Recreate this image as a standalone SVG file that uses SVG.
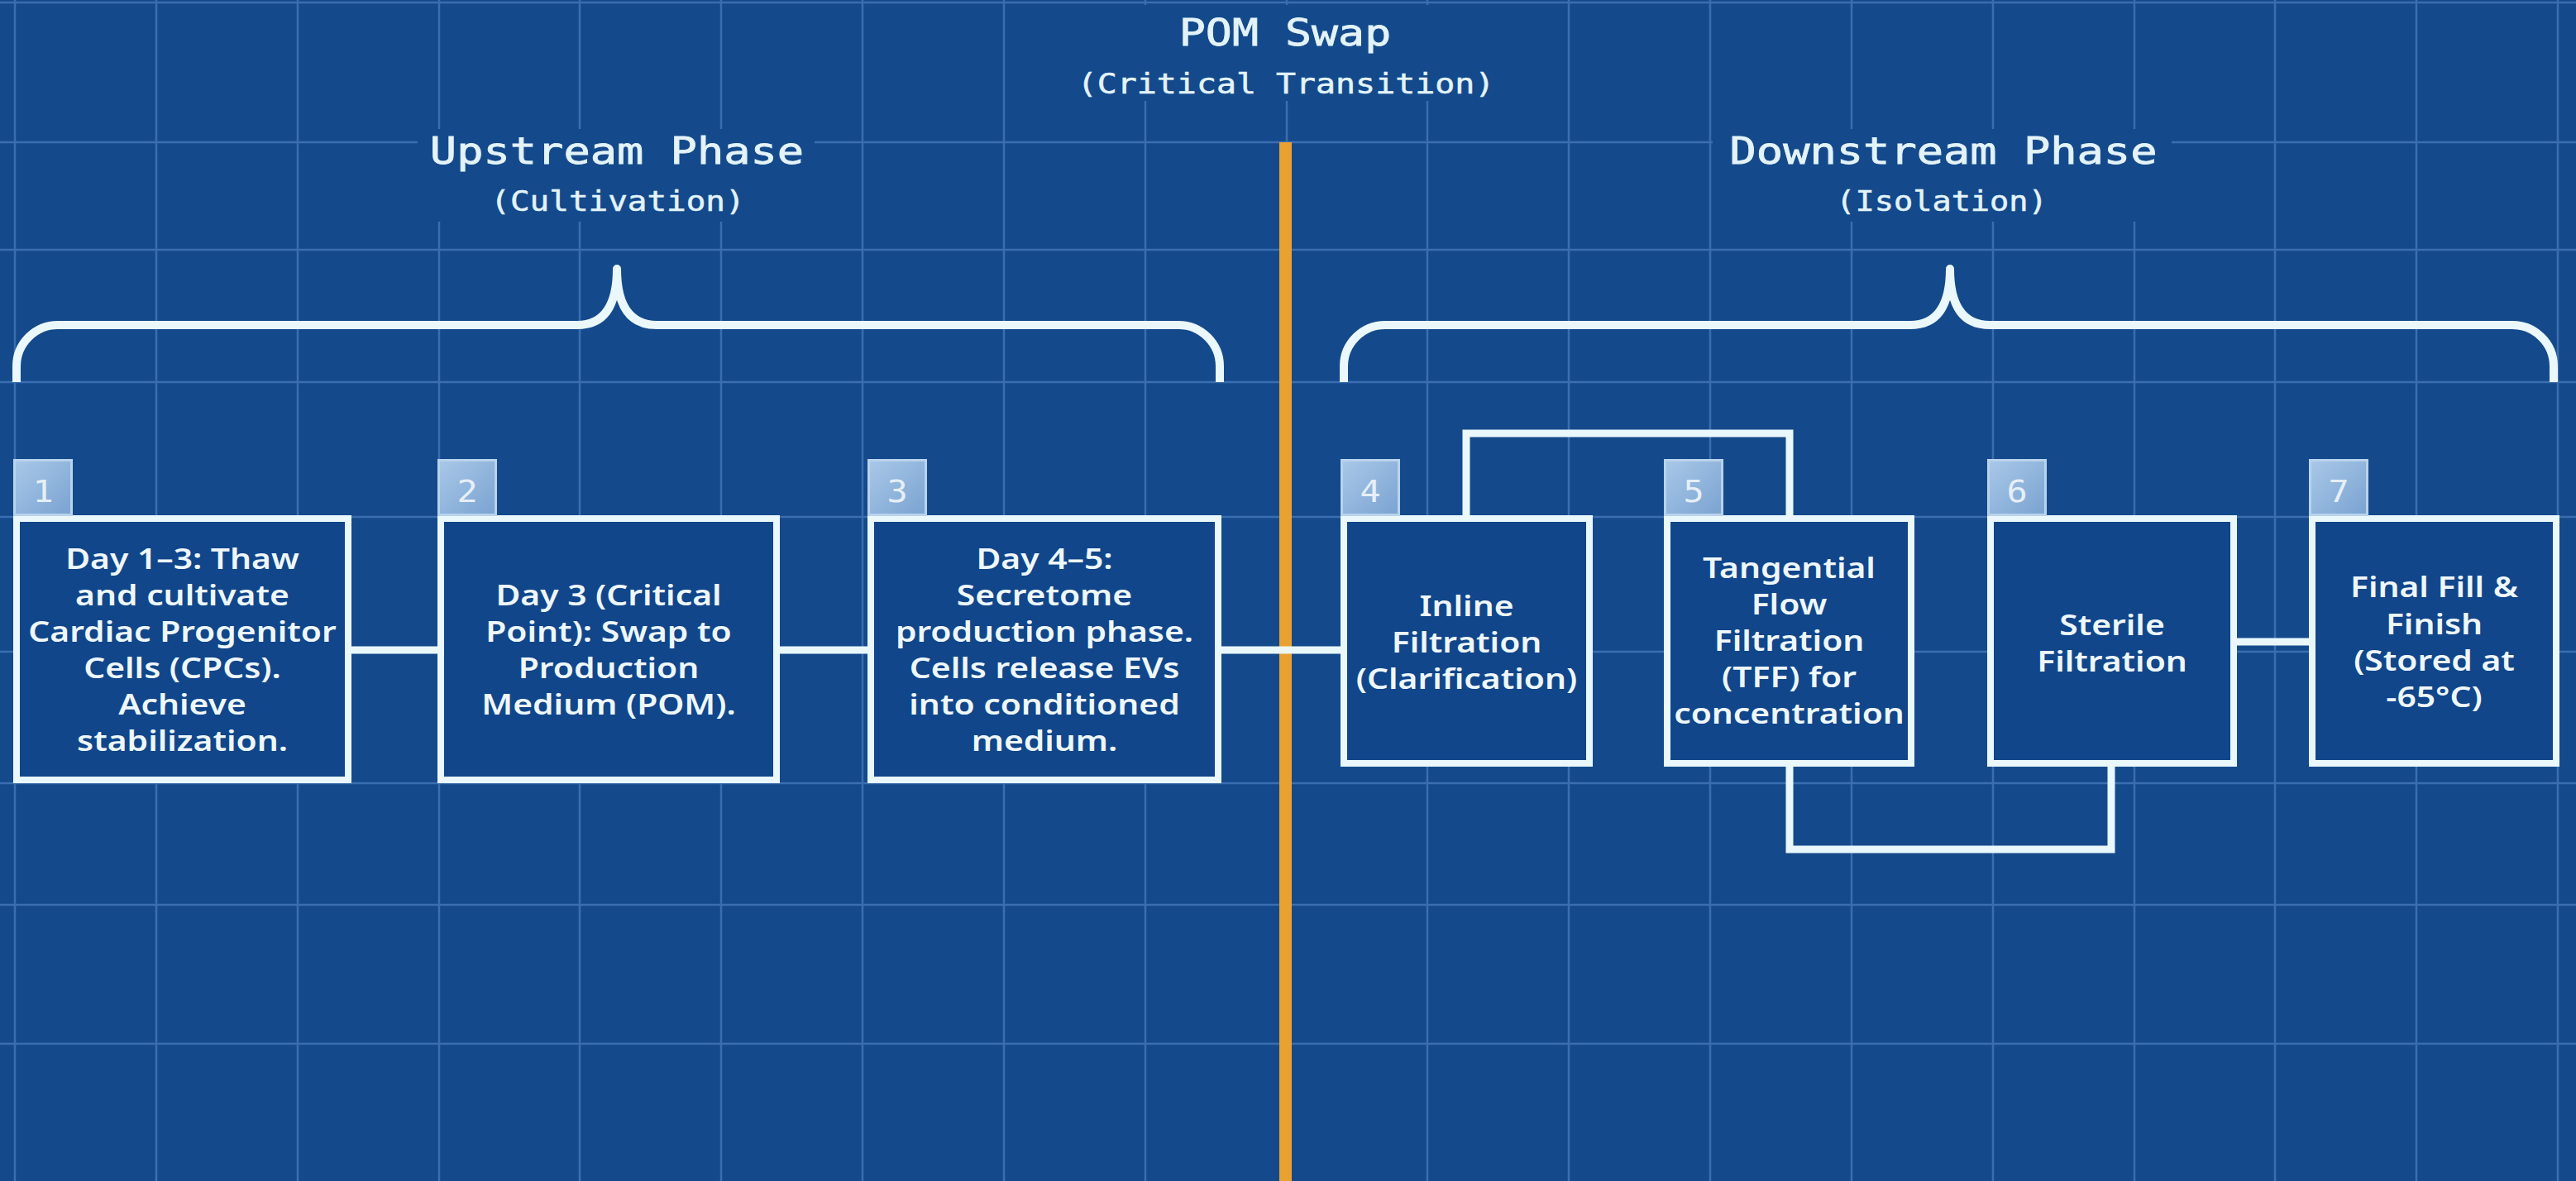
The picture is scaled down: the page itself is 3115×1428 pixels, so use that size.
<svg xmlns="http://www.w3.org/2000/svg" width="3115" height="1428" viewBox="0 0 3115 1428">
<defs>
<linearGradient id="badgeGrad" x1="0" y1="0" x2="1" y2="1">
<stop offset="0" stop-color="#a9c8e8"/>
<stop offset="1" stop-color="#7aa3d1"/>
</linearGradient>
<style>
.grid{stroke:#3a6eb0;stroke-width:2.5;fill:none}
.knock{fill:#144a8b}
.brace{fill:none;stroke:#eaf7fb;stroke-width:10;stroke-linejoin:round}
.conn{fill:none;stroke:#eaf7fb;stroke-width:9;stroke-linejoin:miter}
.box{fill:#11468a;stroke:#eaf7fb;stroke-width:8}
.badge{fill:url(#badgeGrad);stroke:#b9d3ec;stroke-width:3}
.num{font-family:"DejaVu Sans Mono","Liberation Mono",monospace;font-size:38px;fill:#e6eff8;text-anchor:middle}
.lbl{font-family:"Noto Sans","Open Sans","Liberation Sans",sans-serif;font-weight:600;font-size:34px;fill:#eef7fa;text-anchor:middle}
.head{font-family:"DejaVu Sans Mono","Liberation Mono",monospace;font-size:44px;fill:#e3f3f8;stroke:#e3f3f8;stroke-width:0.8;text-anchor:middle}
.sub{font-family:"DejaVu Sans Mono","Liberation Mono",monospace;font-size:33px;fill:#e3f3f8;stroke:#e3f3f8;stroke-width:0.5;text-anchor:middle}
</style>
</defs>
<rect x="0" y="0" width="3115" height="1428" fill="#144a8b"/>
<g id="grid">
<path class="grid" d="M18 0V1428M189 0V1428M360 0V1428M531 0V1428M701 0V1428M872 0V1428M1043 0V1428M1214 0V1428M1385 0V1428M1556 0V1428M1726 0V1428M1897 0V1428M2068 0V1428M2239 0V1428M2410 0V1428M2581 0V1428M2751 0V1428M2922 0V1428M3093 0V1428"/>
<path class="grid" d="M0 3H3115M0 172H3115M0 302H3115M0 462H3115M0 625H3115M0 788H3115M0 947H3115M0 1094H3115M0 1262H3115"/>
</g>
<g id="knockouts">
<rect class="knock" x="505" y="156" width="480" height="112"/>
<rect class="knock" x="2071" y="156" width="555" height="112"/>
<rect class="knock" x="1300" y="6" width="510" height="116"/>
</g>
<rect id="pom-divider" x="1547" y="172" width="15" height="1256" fill="#e9a131"/>
<g id="braces">
<path class="brace" d="M20 462L20 443A50 50 0 0 1 70 393L698 393Q746 393 746 325Q746 393 794 393L1425 393A50 50 0 0 1 1475 443L1475 462"/>
<path class="brace" d="M1625 462L1625 443A50 50 0 0 1 1675 393L2310 393Q2358 393 2358 325Q2358 393 2406 393L3038 393A50 50 0 0 1 3088 443L3088 462"/>
</g>
<g id="connectors">
<path class="conn" d="M425 786H529"/>
<path class="conn" d="M943 786H1049"/>
<path class="conn" d="M1477 786H1621"/>
<path class="conn" d="M1773 623V524H2164V623"/>
<path class="conn" d="M2164 927V1027H2553V927"/>
<path class="conn" d="M2705 776H2792"/>
</g>
<g id="node1">
<rect class="box" x="20" y="627" width="401" height="316"/>
<rect class="badge" x="17.5" y="556.5" width="69" height="66"/>
<text class="num" transform="translate(52,0) scale(1.1,1)" x="0" y="607">1</text>
<text class="lbl" transform="translate(220.5,0) scale(1.2,1)"><tspan x="0" y="688">Day 1–3: Thaw</tspan><tspan x="0" y="732">and cultivate</tspan><tspan x="0" y="776">Cardiac Progenitor</tspan><tspan x="0" y="820">Cells (CPCs).</tspan><tspan x="0" y="864">Achieve</tspan><tspan x="0" y="908">stabilization.</tspan></text>
</g>
<g id="node2">
<rect class="box" x="533" y="627" width="406" height="316"/>
<rect class="badge" x="530.5" y="556.5" width="69" height="66"/>
<text class="num" transform="translate(565,0) scale(1.1,1)" x="0" y="607">2</text>
<text class="lbl" transform="translate(736,0) scale(1.2,1)"><tspan x="0" y="732">Day 3 (Critical</tspan><tspan x="0" y="776">Point): Swap to</tspan><tspan x="0" y="820">Production</tspan><tspan x="0" y="864">Medium (POM).</tspan></text>
</g>
<g id="node3">
<rect class="box" x="1053" y="627" width="420" height="316"/>
<rect class="badge" x="1050.5" y="556.5" width="69" height="66"/>
<text class="num" transform="translate(1085,0) scale(1.1,1)" x="0" y="607">3</text>
<text class="lbl" transform="translate(1263,0) scale(1.2,1)"><tspan x="0" y="688">Day 4–5:</tspan><tspan x="0" y="732">Secretome</tspan><tspan x="0" y="776">production phase.</tspan><tspan x="0" y="820">Cells release EVs</tspan><tspan x="0" y="864">into conditioned</tspan><tspan x="0" y="908">medium.</tspan></text>
</g>
<g id="node4">
<rect class="box" x="1625" y="627" width="297" height="296"/>
<rect class="badge" x="1622.5" y="556.5" width="69" height="66"/>
<text class="num" transform="translate(1657,0) scale(1.1,1)" x="0" y="607">4</text>
<text class="lbl" transform="translate(1773.5,0) scale(1.2,1)"><tspan x="0" y="745">Inline</tspan><tspan x="0" y="789">Filtration</tspan><tspan x="0" y="833">(Clarification)</tspan></text>
</g>
<g id="node5">
<rect class="box" x="2016" y="627" width="295" height="296"/>
<rect class="badge" x="2013.5" y="556.5" width="69" height="66"/>
<text class="num" transform="translate(2048,0) scale(1.1,1)" x="0" y="607">5</text>
<text class="lbl" transform="translate(2163.5,0) scale(1.2,1)"><tspan x="0" y="699">Tangential</tspan><tspan x="0" y="743">Flow</tspan><tspan x="0" y="787">Filtration</tspan><tspan x="0" y="831">(TFF) for</tspan><tspan x="0" y="875">concentration</tspan></text>
</g>
<g id="node6">
<rect class="box" x="2407" y="627" width="294" height="296"/>
<rect class="badge" x="2404.5" y="556.5" width="69" height="66"/>
<text class="num" transform="translate(2439,0) scale(1.1,1)" x="0" y="607">6</text>
<text class="lbl" transform="translate(2554,0) scale(1.2,1)"><tspan x="0" y="768">Sterile</tspan><tspan x="0" y="812">Filtration</tspan></text>
</g>
<g id="node7">
<rect class="box" x="2796" y="627" width="295" height="296"/>
<rect class="badge" x="2793.5" y="556.5" width="69" height="66"/>
<text class="num" transform="translate(2828,0) scale(1.1,1)" x="0" y="607">7</text>
<text class="lbl" transform="translate(2943.5,0) scale(1.2,1)"><tspan x="0" y="722">Final Fill &amp;</tspan><tspan x="0" y="767">Finish</tspan><tspan x="0" y="811">(Stored at</tspan><tspan x="0" y="855">-65°C)</tspan></text>
</g>
<g id="headings">
<text class="head" transform="translate(1554,0) scale(1.21,1)" x="0" y="55">POM Swap</text>
<text class="sub" transform="translate(1555,0) scale(1.21,1)" x="0" y="113">(Critical Transition)</text>
<text class="head" transform="translate(746,0) scale(1.22,1)" x="0" y="198">Upstream Phase</text>
<text class="sub" transform="translate(747,0) scale(1.19,1)" x="0" y="255">(Cultivation)</text>
<text class="head" transform="translate(2350,0) scale(1.22,1)" x="0" y="198">Downstream Phase</text>
<text class="sub" transform="translate(2348,0) scale(1.17,1)" x="0" y="255">(Isolation)</text>
</g>
</svg>
